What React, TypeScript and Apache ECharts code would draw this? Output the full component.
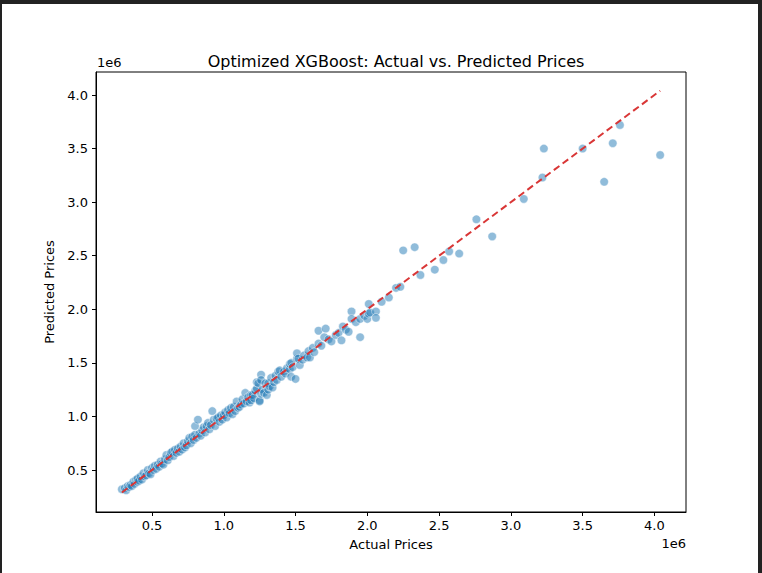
import React, { useEffect, useRef } from "react";
import * as echarts from "echarts";

const actualPrices: number[] = [
  290000, 310000, 320000, 330000, 340000, 350000, 360000, 370000, 380000, 390000,
  400000, 400000, 410000, 420000, 430000, 440000, 450000, 460000, 470000, 480000,
  490000, 500000, 510000, 520000, 530000, 540000, 550000, 560000, 570000, 580000,
  590000, 600000, 610000, 620000, 630000, 640000, 650000, 660000, 670000, 680000,
  690000, 700000, 710000, 720000, 730000, 740000, 750000, 760000, 770000, 780000,
  790000, 800000, 800000, 810000, 820000, 830000, 840000, 850000, 860000, 870000,
  880000, 890000, 900000, 910000, 920000, 930000, 940000, 950000, 960000, 970000,
  980000, 990000, 1000000, 1010000, 1020000, 1030000, 1040000, 1050000, 1060000, 1070000,
  1080000, 1090000, 1100000, 1110000, 1120000, 1130000, 1140000, 1150000, 1160000, 1170000,
  1180000, 1190000, 1190000, 1200000, 1210000, 1220000, 1230000, 1230000, 1240000, 1250000,
  1250000, 1260000, 1260000, 1260000, 1270000, 1280000, 1290000, 1300000, 1310000, 1310000,
  1320000, 1330000, 1340000, 1350000, 1360000, 1370000, 1380000, 1390000, 1400000, 1420000,
  1430000, 1440000, 1460000, 1460000, 1470000, 1470000, 1480000, 1500000, 1510000, 1510000,
  1520000, 1530000, 1550000, 1560000, 1580000, 1590000, 1600000, 1620000, 1630000, 1660000,
  1660000, 1680000, 1700000, 1710000, 1730000, 1750000, 1780000, 1800000, 1820000, 1830000,
  1850000, 1870000, 1890000, 1890000, 1920000, 1950000, 1950000, 1980000, 2000000, 2010000,
  2010000, 2020000, 2060000, 2060000, 2100000, 2150000, 2200000, 2230000, 2250000, 2330000,
  2370000, 2470000, 2530000, 2570000, 2640000, 2760000, 2870000, 3090000, 3220000, 3230000,
  3500000, 3650000, 3710000, 3760000, 4040000,
];

const predictedPrices: number[] = [
  320000, 330000, 310000, 350000, 340000, 360000, 350000, 390000, 370000, 410000,
  390000, 420000, 400000, 440000, 410000, 470000, 440000, 450000, 500000, 470000,
  460000, 520000, 500000, 540000, 510000, 550000, 530000, 580000, 560000, 550000,
  600000, 640000, 590000, 620000, 660000, 670000, 630000, 690000, 660000, 700000,
  670000, 720000, 690000, 750000, 710000, 730000, 770000, 800000, 750000, 810000,
  780000, 910000, 830000, 800000, 970000, 840000, 820000, 870000, 900000, 850000,
  910000, 940000, 880000, 920000, 1050000, 970000, 910000, 980000, 990000, 950000,
  1010000, 970000, 1010000, 1040000, 990000, 1060000, 1030000, 1080000, 1020000, 1090000,
  1050000, 1140000, 1080000, 1090000, 1110000, 1160000, 1120000, 1220000, 1140000, 1180000,
  1130000, 1200000, 1150000, 1200000, 1170000, 1240000, 1260000, 1320000, 1310000, 1150000,
  1140000, 1210000, 1390000, 1340000, 1250000, 1220000, 1310000, 1200000, 1250000, 1310000,
  1280000, 1360000, 1270000, 1320000, 1380000, 1340000, 1420000, 1430000, 1370000, 1420000,
  1400000, 1450000, 1440000, 1490000, 1500000, 1370000, 1460000, 1350000, 1540000, 1590000,
  1540000, 1480000, 1530000, 1570000, 1550000, 1610000, 1550000, 1640000, 1600000, 1680000,
  1800000, 1660000, 1740000, 1820000, 1720000, 1700000, 1760000, 1780000, 1710000, 1840000,
  1810000, 1790000, 1980000, 1910000, 1880000, 1910000, 1740000, 1940000, 1910000, 2050000,
  1960000, 1970000, 1980000, 1920000, 2070000, 2110000, 2200000, 2210000, 2550000, 2580000,
  2320000, 2370000, 2460000, 2540000, 2520000, 2840000, 2680000, 3030000, 3230000, 3500000,
  3500000, 3190000, 3550000, 3720000, 3440000,
];

const tickValues: number[] = [500000, 1000000, 1500000, 2000000, 2500000, 3000000, 3500000, 4000000];

const FONT = "DejaVu Sans";

export default function App() {
  const ref = useRef<HTMLDivElement>(null);
  useEffect(() => {
    if (!ref.current) return;
    const chart = echarts.init(ref.current, undefined, { renderer: "svg" });
    const points = actualPrices.map((a, i) => [a, predictedPrices[i]]);
    const lo = Math.min(...actualPrices);
    const hi = Math.max(...actualPrices);
    const fmt = (v: number) => (v / 1e6).toFixed(1);
    chart.setOption({
      animation: false,
      backgroundColor: "#ffffff",
      title: {
        text: "Optimized XGBoost: Actual vs. Predicted Prices",
        left: 391,
        textAlign: "center",
        top: 48,
        textStyle: { fontFamily: FONT, fontSize: 16, fontWeight: "normal", color: "#000" },
      },
      grid: { left: 96, right: 76, top: 72, bottom: 61, show: true, borderColor: "#000", borderWidth: 1, backgroundColor: "transparent" },
      xAxis: {
        type: "value",
        min: 110000,
        max: 4220000,
        name: "Actual Prices",
        nameLocation: "middle",
        nameGap: 26,
        nameTextStyle: { fontFamily: FONT, fontSize: 13, color: "#000" },
        axisLine: { show: true, onZero: false, lineStyle: { color: "#000", width: 1 } },
        axisTick: { show: true, length: 4, lineStyle: { color: "#000" }, customValues: tickValues },
        axisLabel: { show: true, fontFamily: FONT, fontSize: 13, color: "#000", margin: 7, customValues: tickValues, formatter: fmt },
        splitLine: { show: false },
      },
      yAxis: {
        type: "value",
        min: 108000,
        max: 4215000,
        name: "Predicted Prices",
        nameLocation: "middle",
        nameGap: 36,
        nameRotate: 90,
        nameTextStyle: { fontFamily: FONT, fontSize: 13, color: "#000" },
        axisLine: { show: true, onZero: false, lineStyle: { color: "#000", width: 1 } },
        axisTick: { show: true, length: 4, lineStyle: { color: "#000" }, customValues: tickValues },
        axisLabel: { show: true, fontFamily: FONT, fontSize: 13, color: "#000", margin: 8, customValues: tickValues, formatter: fmt },
        splitLine: { show: false },
      },
      series: [
        {
          type: "scatter",
          data: points,
          symbolSize: 8.5,
          itemStyle: { color: "rgba(31,119,180,0.62)", borderColor: "#ffffff", borderWidth: 0.6 },
          z: 2,
        },
        {
          type: "line",
          data: [[lo, lo], [hi, hi]],
          symbol: "none",
          lineStyle: { color: "#d93636", width: 2, type: [7, 4] },
          z: 3,
        },
      ],
      graphic: [
        { type: "text", left: 97, top: 56, style: { text: "1e6", fontFamily: FONT, fontSize: 13, fill: "#000" } },
        { type: "text", right: 76, top: 537, style: { text: "1e6", fontFamily: FONT, fontSize: 13, fill: "#000" } },
        { type: "rect", shape: { x: 0, y: 0, width: 762, height: 4 }, style: { fill: "#222" } },
        { type: "rect", shape: { x: 0, y: 0, width: 2, height: 573 }, style: { fill: "#222" } },
        { type: "rect", shape: { x: 758, y: 0, width: 4, height: 573 }, style: { fill: "#222" } },
      ],
    });
    return () => chart.dispose();
  }, []);
  return <div ref={ref} style={{ position: "fixed", left: 0, top: 0, width: 762, height: 573 }} />;
}
